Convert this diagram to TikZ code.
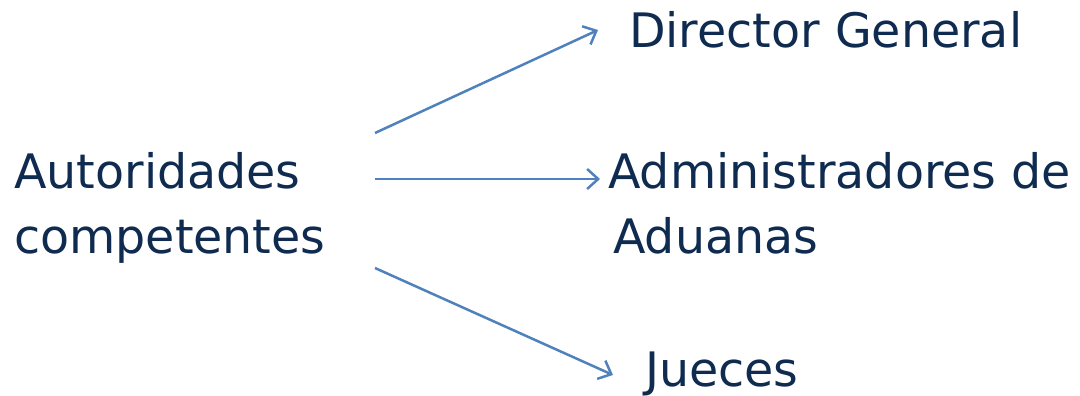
\documentclass[tikz,border=0pt]{standalone}
\usepackage{fontspec}
\setmainfont{DejaVu Sans}
\usetikzlibrary{arrows.meta}
\definecolor{txt}{HTML}{0F2B50}
\definecolor{arr}{HTML}{4F81BD}
\tikzset{
  lbl/.style={anchor=base west, inner sep=0pt, text=txt, font=\fontsize{47.5}{65}\selectfont, align=left},
  conn/.style={draw=arr, line width=2.5pt, -{Straight Barb[length=11pt,width=20pt,line width=2.5pt]}}
}
\begin{document}
\begin{tikzpicture}[x=1pt,y=-1pt]
\useasboundingbox (0,0) rectangle (1080,396);
\node[lbl] (auth) at (14,188) {Autoridades};
\node[lbl] (auth2) at (14,253) {competentes};
\node[lbl] (dir) at (629,48) {Director General};
\node[lbl] (adm) at (608,188) {Administradores de};
\node[lbl] (adu) at (613,253) {Aduanas};
\node[lbl] (jue) at (645,386) {Jueces};
\coordinate (s1) at (375,133);
\coordinate (e1) at (598,30);
\coordinate (s2) at (375,179);
\coordinate (e2) at (600,179);
\coordinate (s3) at (375,268);
\coordinate (e3) at (613,375);
\draw[conn] (s1) -- (e1);
\draw[conn] (s2) -- (e2);
\draw[conn] (s3) -- (e3);
\end{tikzpicture}
\end{document}
